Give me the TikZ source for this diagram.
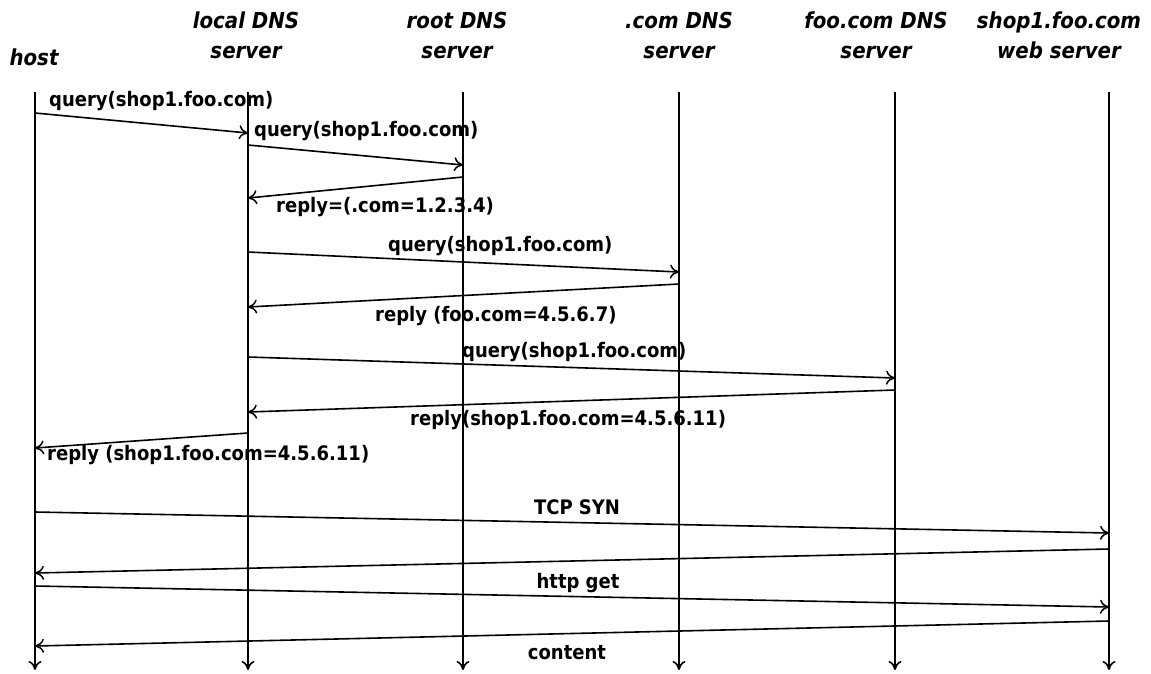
\documentclass[tikz,border=0pt]{standalone}
\usepackage{fontspec}
\setmainfont{DejaVu Sans}
\newfontfamily\lblfont{DejaVu Sans Condensed}
\usetikzlibrary{arrows.meta}
\tikzset{
  life/.style={line width=2.2pt,-{To[length=9pt,width=13pt,line width=1.6pt]}},
  msg/.style={line width=1.6pt,-{To[length=9pt,width=14pt,line width=1.5pt]}},
  lbl/.style={inner sep=0pt,font=\lblfont\fontsize{20}{22}\selectfont\bfseries},
  hdr/.style={inner sep=0pt,align=center,font=\lblfont\fontsize{22}{30}\selectfont\bfseries\itshape},
}
\begin{document}
\begin{tikzpicture}[x=1pt,y=-1pt]
\useasboundingbox (0,0) rectangle (1151,673);
% headers
\node[hdr] (hh) at (34,57) {host};
\node[hdr] (hl) at (246,35) {local DNS\\server};
\node[hdr] (hr) at (457,35) {root DNS\\server};
\node[hdr] (hc) at (679,35) {.com DNS\\server};
\node[hdr] (hf) at (876,35) {foo.com DNS\\server};
\node[hdr] (hs) at (1059,35) {shop1.foo.com\\web server};
% lifelines
\coordinate (h) at (35,92);   \coordinate (hb) at (35,670);
\coordinate (l) at (248,92);  \coordinate (lb) at (248,670);
\coordinate (r) at (463,92);  \coordinate (rb) at (463,670);
\coordinate (c) at (679,92);  \coordinate (cb) at (679,670);
\coordinate (f) at (895,92);  \coordinate (fb) at (895,670);
\coordinate (s) at (1109,92); \coordinate (sb) at (1109,670);
\foreach \a/\b in {h/hb,l/lb,r/rb,c/cb,f/fb,s/sb} \draw[life] (\a) -- (\b);
% messages
\draw[msg] (h |- 0,113) -- (l |- 0,133);
\node[lbl,anchor=west] (m1) at (49,101) {query(shop1.foo.com)};
\draw[msg] (l |- 0,145) -- (r |- 0,165);
\node[lbl,anchor=west] (m2) at (254,131) {query(shop1.foo.com)};
\draw[msg] (r |- 0,177) -- (l |- 0,198);
\node[lbl,anchor=west] (m3) at (276,207) {reply=(.com=1.2.3.4)};
\draw[msg] (l |- 0,252) -- (c |- 0,272);
\node[lbl,anchor=west] (m4) at (388,246) {query(shop1.foo.com)};
\draw[msg] (c |- 0,284) -- (l |- 0,307);
\node[lbl,anchor=west] (m5) at (375,316) {reply (foo.com=4.5.6.7)};
\draw[msg] (l |- 0,357) -- (f |- 0,378);
\node[lbl,anchor=west] (m6) at (462,352) {query(shop1.foo.com)};
\draw[msg] (f |- 0,390) -- (l |- 0,412);
\node[lbl,anchor=west] (m7) at (410,420) {reply(shop1.foo.com=4.5.6.11)};
\draw[msg] (l |- 0,433) -- (h |- 0,448);
\node[lbl,anchor=west] (m8) at (47,455) {reply (shop1.foo.com=4.5.6.11)};
\draw[msg] (h |- 0,512) -- (s |- 0,533);
\node[lbl] (m9) at (577,507) {TCP SYN};
\draw[msg] (s |- 0,549) -- (h |- 0,573);
\draw[msg] (h |- 0,586) -- (s |- 0,607);
\node[lbl] (m11) at (578,583) {http get};
\draw[msg] (s |- 0,621) -- (h |- 0,646);
\node[lbl] (m12) at (567,653) {content};
\end{tikzpicture}
\end{document}
